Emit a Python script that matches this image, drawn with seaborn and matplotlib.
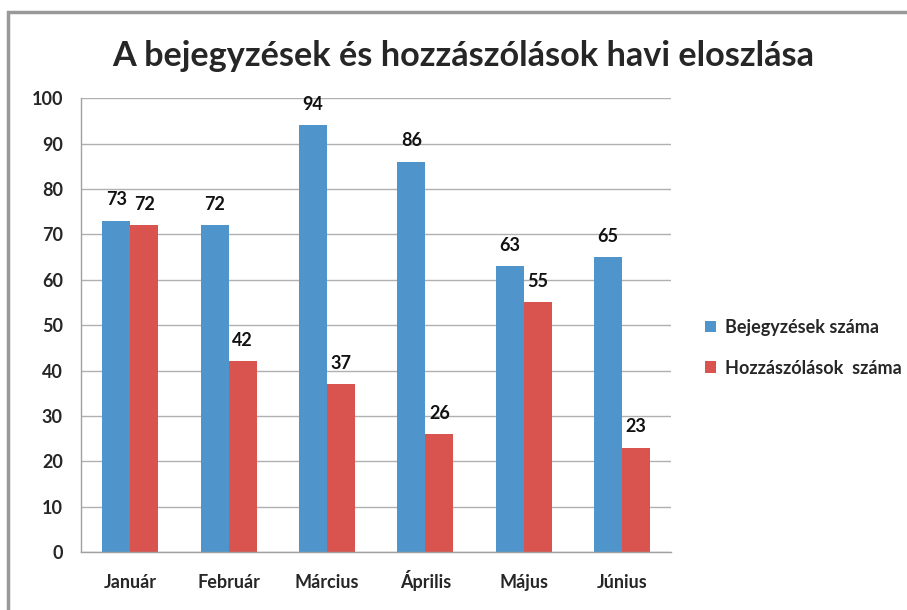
import pandas as pd
import matplotlib.pyplot as plt
import seaborn as sns
from matplotlib.patches import Rectangle

# Adatok
honapok = ['Január', 'Február', 'Március', 'Április', 'Május', 'Június']
bejegyzesek = [73, 72, 94, 86, 63, 65]
hozzaszolasok = [72, 42, 37, 26, 55, 23]
sorozatok = ['Bejegyzések száma', 'Hozzászólások  száma']
szinek = ['#4F95CB', '#D9534F']

df = pd.DataFrame({
    'Hónap': honapok * 2,
    'Érték': bejegyzesek + hozzaszolasok,
    'Sorozat': [sorozatok[0]] * 6 + [sorozatok[1]] * 6,
})

sns.set_style('white')
plt.rcParams['font.family'] = ['Lato', 'DejaVu Sans']

fig = plt.figure(figsize=(9.07, 6.10), dpi=100)
ax = fig.add_axes([0.0893, 0.095, 0.651, 0.744])

sns.barplot(data=df, x='Hónap', y='Érték', hue='Sorozat', palette=szinek,
            width=0.57, saturation=1, linewidth=0, ax=ax, legend=True)

ax.set_ylim(0, 100)
ax.set_yticks(range(0, 101, 10))
ax.set_xlim(-0.5, 5.5)
ax.yaxis.grid(True, color='#B0B0B0', linewidth=1)
ax.set_axisbelow(True)
ax.set_xlabel('')
ax.set_ylabel('')
for s in ['top', 'right']:
    ax.spines[s].set_visible(False)
for s in ['left', 'bottom']:
    ax.spines[s].set_color('#A0A0A0')
    ax.spines[s].set_linewidth(1)

# x tengely: osztásjelek a kategóriák határán
ax.set_xticks(range(6))
ax.set_xticklabels(honapok, fontsize=13, fontweight='bold', va='baseline')
ax.tick_params(axis='x', length=0, pad=26)
ax.set_xticks([i - 0.5 for i in range(7)], minor=True)
ax.tick_params(axis='x', which='minor', length=7, color='#A0A0A0', direction='out')
ax.tick_params(axis='y', length=7, color='#A0A0A0', labelsize=13, pad=6)
for t in ax.get_yticklabels():
    t.set_fontweight('bold')

# Címkék a sávok fölött
for cont in ax.containers:
    for p in cont:
        ax.annotate(f'{int(round(p.get_height()))}',
                    (p.get_x() + p.get_width() / 2., p.get_height()),
                    ha='center', va='bottom', xytext=(0, 9), textcoords='offset points',
                    fontsize=13, fontweight='bold', color='#111111')

ax.legend(loc='center left', bbox_to_anchor=(1.03, 0.45), frameon=False,
          handlelength=0.6, handleheight=0.6, handletextpad=0.5,
          labelspacing=1.3, prop={'size': 13, 'weight': 'bold'})

fig.suptitle('A bejegyzések és hozzászólások havi eloszlása', x=0.511, y=0.935,
             fontsize=24.7, fontweight='bold')

# Keret
fig.patches.append(Rectangle((0.009, -0.1), 1.2, 1.08, transform=fig.transFigure,
                             fill=False, edgecolor='#999999', linewidth=2.5))

fig.savefig('out.png', dpi=100)
